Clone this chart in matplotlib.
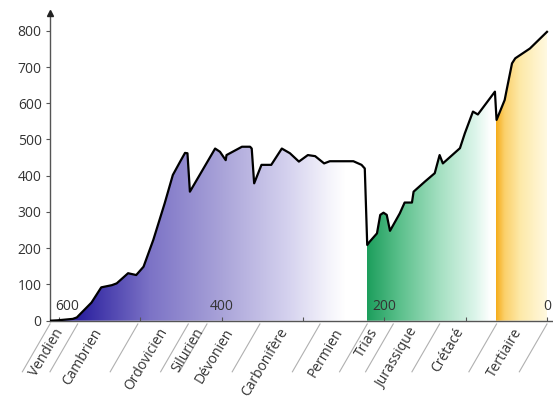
import matplotlib
matplotlib.use("Agg")
import matplotlib.pyplot as plt
import numpy as np
from matplotlib.colors import to_rgb
from matplotlib.patches import Polygon

plt.rcParams['font.family'] = ['Open Sans', 'DejaVu Sans']

# curve: age (Ma) vs number of marine families
ma = [611, 602, 583, 578, 560, 548, 535, 529, 515, 505, 496, 484, 470, 460, 451,
      445, 442, 439, 408, 402, 395, 394, 375, 365, 363, 360, 351, 339, 326,
      316, 305, 294, 285, 274, 267, 238, 228, 224, 221, 218, 209, 205, 201,
      197, 193, 181, 175, 166, 164, 150, 138, 132, 128, 107, 101, 91, 85,
      64, 62, 52, 50, 43, 39, 21, 0]
families = [0, 1, 5, 9, 50, 92, 98, 103, 131, 126, 149, 223, 324, 402, 439,
            463, 462, 356, 475, 466, 443, 457, 480, 480, 475, 379, 430, 430, 475,
            462, 439, 457, 454, 434, 440, 440, 430, 420, 209, 218, 241, 292, 298,
            292, 248, 296, 326, 326, 356, 384, 407, 457, 434, 476, 517, 577, 569,
            632, 554, 609, 632, 710, 724, 751, 797]

# x axis labels
age_ticks = [600, 500, 400, 300, 200, 100, 0]
age_labels = {590: "600", 400: "400", 200: "200", 0: "0"}
y_ticks = [0, 100, 200, 300, 400, 500, 600, 700, 800]

# periods: name, age at the right end of the label
periods = ["Vendien", "Cambrien", "Ordovicien", "Silurien", "Dévonien",
           "Carbonifère", "Permien", "Trias", "Jurassique", "Crétacé", "Tertiaire"]
period_label_ma = [598, 551, 470, 426, 389, 323, 255, 212, 163, 106, 34]
separator_ma = [611, 577, 503, 441, 418, 353, 279, 221, 189, 132, 62, 0]

# colour gradients (age, colour)
paleo_grad = [(611, "#2d22a0"), (574, "#2d22a0"), (488, "#7c73c6"), (402, "#a8a2d8"),
              (316, "#d6d3ef"), (267, "#f5f4fb"), (248, "#ffffff"), (221.5, "#ffffff")]
meso_grad = [(221.5, "#1c9e5c"), (181, "#5cc08c"), (132, "#a5e0c2"), (89, "#dcf5ea"),
             (70, "#ffffff"), (62.5, "#ffffff")]
ceno_grad = [(62.5, "#f5ac1a"), (52, "#fbd06a"), (33, "#fde9a8"), (0, "#fff9e0"), (-8, "#fffbe8")]

XMAX, XMIN = 611, -7.4
YMAX = 849

fig = plt.figure(figsize=(5.53, 4.01), dpi=100)
ax = fig.add_axes([50 / 553, (401 - 320.7) / 401, 503 / 553, (320.7 - 13) / 401])

poly = Polygon(list(zip(ma, families)) + [(0, 0), (611, 0)], closed=True,
               facecolor="none", edgecolor="none")
ax.add_patch(poly)


def gradient(stops):
    left, right = stops[0][0], stops[-1][0]
    n = 400
    xs = np.linspace(left, right, n)
    pos = [-s[0] for s in stops]
    cols = np.array([to_rgb(s[1]) for s in stops])
    img = np.zeros((1, n, 3))
    for c in range(3):
        img[0, :, c] = np.interp(-xs, pos, cols[:, c])
    im = ax.imshow(img, extent=(left, right, 0, YMAX), aspect="auto",
                   interpolation="bilinear", zorder=1)
    im.set_clip_path(poly)


gradient(paleo_grad)
gradient(meso_grad)
gradient(ceno_grad)
ax.set_xlim(XMAX, XMIN)
ax.set_ylim(0, YMAX)

ax.plot(ma, families, color="black", lw=1.6, solid_joinstyle="round", zorder=3)

# axes styling
for s in ["top", "right"]:
    ax.spines[s].set_visible(False)
for s in ["left", "bottom"]:
    ax.spines[s].set_color("#555555")
    ax.spines[s].set_linewidth(1.0)
ax.plot([XMAX], [YMAX], marker="^", color="#222222", markersize=5, clip_on=False, zorder=4)

ax.set_yticks(y_ticks)
ax.tick_params(axis="y", direction="out", length=3, width=0.8, colors="#555555",
               labelcolor="#333333", labelsize=10, pad=3)
ax.set_xticks(age_ticks)
ax.set_xticklabels([])
ax.tick_params(axis="x", direction="in", length=3, width=0.8, colors="#555555")

for a, lab in age_labels.items():
    ax.text(a, 38, lab, ha="center", va="center", fontsize=10, color="#333333", zorder=5)

# period labels below axis
for name, a in zip(periods, period_label_ma):
    ax.text(a, -24, name, rotation=59, rotation_mode="anchor", ha="right", va="center",
            fontsize=10, color="#333333", clip_on=False)

for a in separator_ma:
    ax.plot([a, a + 34], [-9, -141], color="#b0b0b0", lw=0.8, clip_on=False)

fig.savefig("out.png", dpi=100)
